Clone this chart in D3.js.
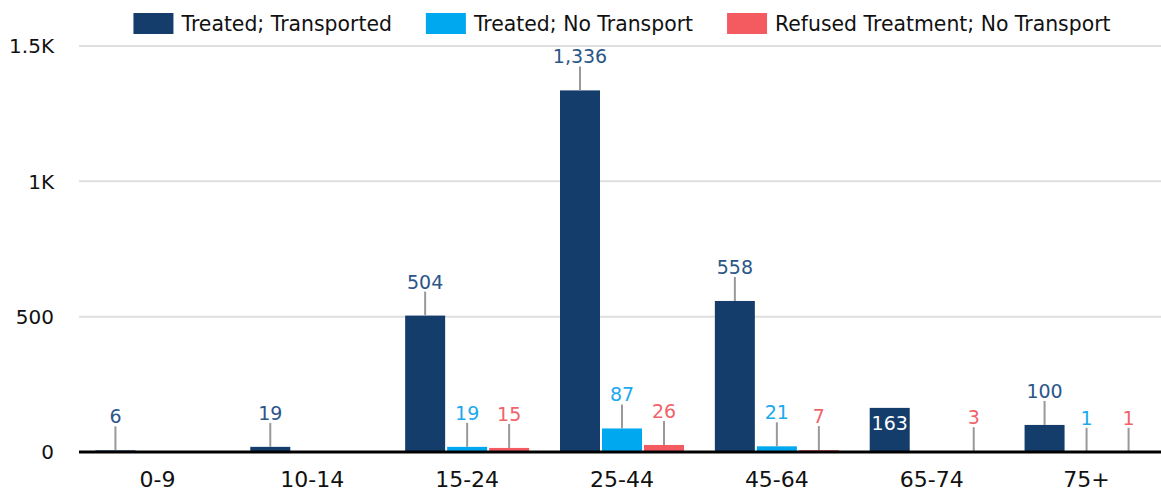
<!DOCTYPE html>
<html>
<head>
<meta charset="utf-8">
<script src="https://cdn.jsdelivr.net/npm/d3@7"></script>
<style>
  body { margin: 0; background: #fff; }
  svg { display: block; font-family: "DejaVu Sans", sans-serif; }
</style>
</head>
<body>
<div id="chart"></div>
<script>
// data
const categories = ["0-9", "10-14", "15-24", "25-44", "45-64", "65-74", "75+"];
const seriesNames = ["Treated; Transported", "Treated; No Transport", "Refused Treatment; No Transport"];
const treatedTransported = [6, 19, 504, 1336, 558, 163, 100];
const treatedNoTransport = [null, null, 19, 87, 21, null, 1];
const refusedNoTransport = [null, null, 15, 26, 7, 3, 1];
const yTicks = [0, 500, 1000, 1500];
const yTickLabels = ["0", "500", "1K", "1.5K"];

const colors = ["#143d6c", "#00a8f0", "#f35b61"];
const labelColors = ["#2b5689", "#1aa9ee", "#f0636a"];

const W = 1161, H = 492;
const plot = { left: 80, right: 1164, top: 46, bottom: 452 };

const svg = d3.select("#chart").append("svg")
    .attr("width", W)
    .attr("height", H);

const x = d3.scaleBand()
    .domain(categories)
    .range([plot.left, plot.right]);

const xInner = d3.scaleBand()
    .domain(d3.range(seriesNames.length))
    .range([-62, 62])
    .paddingInner(2 / 42);

const y = d3.scaleLinear()
    .domain([0, 1500])
    .range([plot.bottom, plot.top]);

// gridlines
svg.append("g")
    .selectAll("line")
    .data(yTicks.filter(d => d > 0))
    .join("line")
    .attr("x1", 79).attr("x2", W)
    .attr("y1", d => y(d)).attr("y2", d => y(d))
    .attr("stroke", "#dedede")
    .attr("stroke-width", 2);

// y axis labels
svg.append("g")
    .selectAll("text")
    .data(yTicks)
    .join("text")
    .attr("x", 54)
    .attr("y", d => y(d))
    .attr("dy", "0.36em")
    .attr("text-anchor", "end")
    .attr("font-size", 20)
    .attr("fill", "#111")
    .text((d, i) => yTickLabels[i]);

// flatten series
const seriesValues = [treatedTransported, treatedNoTransport, refusedNoTransport];
const rows = [];
categories.forEach((c, ci) => {
    seriesValues.forEach((vals, si) => {
        if (vals[ci] != null) rows.push({ cat: c, s: si, value: vals[ci] });
    });
});

const bx = d => x(d.cat) + x.bandwidth() / 2 + xInner(d.s);

// bars
svg.append("g")
    .selectAll("rect")
    .data(rows)
    .join("rect")
    .attr("x", bx)
    .attr("y", d => y(d.value))
    .attr("width", xInner.bandwidth())
    .attr("height", d => y(0) - y(d.value))
    .attr("fill", d => colors[d.s]);

// labels: 65-74 transported bar shows its value inside
const inside = d => d.cat === "65-74" && d.s === 0;

svg.append("g")
    .selectAll("line")
    .data(rows.filter(d => !inside(d)))
    .join("line")
    .attr("x1", d => bx(d) + xInner.bandwidth() / 2)
    .attr("x2", d => bx(d) + xInner.bandwidth() / 2)
    .attr("y1", d => y(d.value))
    .attr("y2", d => y(d.value) - 24)
    .attr("stroke", "#999")
    .attr("stroke-width", 2);

svg.append("g")
    .selectAll("text")
    .data(rows)
    .join("text")
    .attr("x", d => bx(d) + xInner.bandwidth() / 2)
    .attr("y", d => inside(d) ? y(d.value) + 22 : y(d.value) - 27)
    .attr("text-anchor", "middle")
    .attr("font-size", 19)
    .attr("fill", d => inside(d) ? "#fff" : labelColors[d.s])
    .text(d => d3.format(",")(d.value));

// baseline
svg.append("line")
    .attr("x1", 79).attr("x2", W)
    .attr("y1", y(0)).attr("y2", y(0))
    .attr("stroke", "#000")
    .attr("stroke-width", 3);

// x axis labels
svg.append("g")
    .selectAll("text")
    .data(categories)
    .join("text")
    .attr("x", d => x(d) + x.bandwidth() / 2)
    .attr("y", 487)
    .attr("text-anchor", "middle")
    .attr("font-size", 22)
    .attr("fill", "#111")
    .text(d => d);

// legend, centred over the plot
const legend = svg.append("g");
const items = legend.selectAll("g")
    .data(seriesNames)
    .join("g");
items.append("rect")
    .attr("width", 40).attr("height", 21)
    .attr("y", 13)
    .attr("fill", (d, i) => colors[i]);
items.append("text")
    .attr("x", 48)
    .attr("y", 31)
    .attr("font-size", 20.4)
    .attr("fill", "#111")
    .text(d => d);

let offset = 0;
const widths = [];
items.each(function () {
    const w = 48 + d3.select(this).select("text").node().getComputedTextLength();
    widths.push(w);
});
const total = d3.sum(widths) + 34 * (widths.length - 1);
offset = (plot.left + plot.right) / 2 - total / 2;
items.attr("transform", (d, i) => {
    const t = `translate(${offset},0)`;
    offset += widths[i] + 34;
    return t;
});
</script>
</body>
</html>
